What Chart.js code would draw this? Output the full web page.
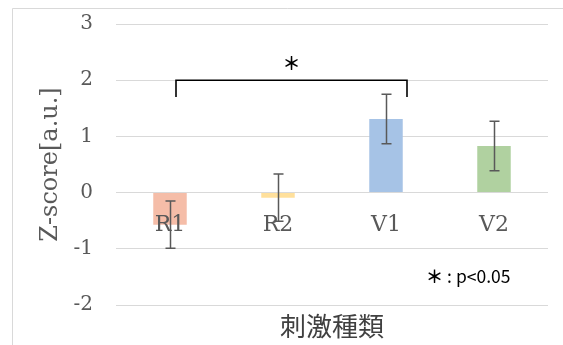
<!DOCTYPE html>
<html>
<head>
<meta charset="utf-8">
<script src="https://cdn.jsdelivr.net/npm/chart.js@4/dist/chart.umd.min.js"></script>
<style>
  html, body { margin: 0; padding: 0; background: #fff; overflow: hidden; }
  #wrap { width: 563px; height: 345px; }
</style>
</head>
<body>
<div id="wrap"><canvas id="c" width="563" height="345"></canvas></div>
<script>
// Stimulus categories and their mean Z-scores with error-bar half lengths
const categories = ['R1', 'R2', 'V1', 'V2'];
const zScores = [-0.57, -0.09, 1.31, 0.83];
const errors = [0.42, 0.42, 0.44, 0.44];
const barColors = ['#F5BDA8', '#FFE09C', '#A6C3E6', '#B0D1A0'];
const yTicks = [-2, -1, 0, 1, 2, 3];

// Significance bracket between two groups
const sigPair = ['R1', 'V1'];
const sigLevel = 2;
const sigDrop = 0.3;
const sigMark = '＊';
const noteMark = '＊';
const noteText = ' : p<0.05';

const SERIF = '"DejaVu Serif", "Liberation Serif", serif';
const SANS = '"Noto Sans CJK JP", "Noto Sans", sans-serif';
const GRAY = '#595959';

// Outer frame of the chart object
const framePlugin = {
  id: 'frame',
  beforeDraw(chart) {
    const ctx = chart.ctx;
    ctx.save();
    ctx.fillStyle = '#fff';
    ctx.fillRect(0, 0, chart.width, chart.height);
    ctx.strokeStyle = '#d9d9d9';
    ctx.lineWidth = 1;
    ctx.beginPath();
    ctx.moveTo(12.5, chart.height);
    ctx.lineTo(12.5, 8.5);
    ctx.lineTo(chart.width, 8.5);
    ctx.stroke();
    ctx.restore();
  }
};

// Category labels beside the zero line, error bars, bracket and note
const overlayPlugin = {
  id: 'overlay',
  afterDatasetsDraw(chart) {
    const ctx = chart.ctx;
    const xs = chart.scales.x;
    const ys = chart.scales.y;
    const meta = chart.getDatasetMeta(0);
    const zeroY = ys.getPixelForValue(0);

    ctx.save();
    // category labels
    ctx.font = '22px ' + SERIF;
    ctx.fillStyle = GRAY;
    ctx.textAlign = 'center';
    ctx.textBaseline = 'middle';
    categories.forEach((c, i) => {
      ctx.fillText(c, xs.getPixelForValue(i), zeroY + 33);
    });

    // error bars
    ctx.strokeStyle = GRAY;
    ctx.lineWidth = 1.5;
    meta.data.forEach((el, i) => {
      const x = Math.round(el.x) + 0.5;
      const top = ys.getPixelForValue(zScores[i] + errors[i]);
      const bot = ys.getPixelForValue(zScores[i] - errors[i]);
      ctx.beginPath();
      ctx.moveTo(x, top); ctx.lineTo(x, bot);
      ctx.moveTo(x - 5, top); ctx.lineTo(x + 5, top);
      ctx.moveTo(x - 5, bot); ctx.lineTo(x + 5, bot);
      ctx.stroke();
    });

    // significance bracket
    const i0 = categories.indexOf(sigPair[0]);
    const i1 = categories.indexOf(sigPair[1]);
    const bx0 = xs.getPixelForValue(i0) + 6;
    const bx1 = xs.getPixelForValue(i1) + 21;
    const by = ys.getPixelForValue(sigLevel);
    const byDrop = ys.getPixelForValue(sigLevel - sigDrop);
    ctx.strokeStyle = '#000';
    ctx.lineWidth = 1.6;
    ctx.beginPath();
    ctx.moveTo(bx0, byDrop); ctx.lineTo(bx0, by); ctx.lineTo(bx1, by); ctx.lineTo(bx1, byDrop);
    ctx.stroke();
    ctx.fillStyle = '#000';
    ctx.font = 'bold 18px ' + SANS;
    ctx.fillText(sigMark, (bx0 + bx1) / 2, ys.getPixelForValue(sigLevel + 0.3));

    // note: bold mark followed by the threshold text
    const nx = xs.getPixelForValue(2.76);
    const ny = ys.getPixelForValue(-1.49);
    ctx.font = 'bold 17.5px ' + SANS;
    const wMark = ctx.measureText(noteMark).width;
    ctx.font = '17.5px ' + SANS;
    const wText = ctx.measureText(noteText).width;
    const startX = nx - (wMark + wText) / 2;
    ctx.textAlign = 'left';
    ctx.font = 'bold 17.5px ' + SANS;
    ctx.fillText(noteMark, startX, ny);
    ctx.font = '17.5px ' + SANS;
    ctx.fillText(noteText, startX + wMark, ny);
    ctx.restore();
  }
};

new Chart(document.getElementById('c'), {
  type: 'bar',
  data: {
    labels: categories,
    datasets: [{
      data: zScores,
      backgroundColor: barColors,
      borderWidth: 0,
      categoryPercentage: 1,
      barPercentage: 0.31
    }]
  },
  options: {
    responsive: false,
    devicePixelRatio: 1,
    animation: false,
    layout: { padding: { top: 24, right: 15, bottom: 0, left: 0 } },
    plugins: { legend: { display: false }, tooltip: { enabled: false } },
    scales: {
      x: {
        grid: { display: false },
        border: { display: false },
        ticks: { display: false },
        title: {
          display: true,
          text: '刺激種類',
          color: '#404040',
          font: { family: SANS, size: 26, lineHeight: 1.2 },
          padding: { top: 0, bottom: 3 }
        },
        afterFit(scale) { scale.height = 40; scale.paddingLeft = 0; scale.paddingRight = 0; }
      },
      y: {
        min: -2,
        max: 3,
        afterBuildTicks(scale) { scale.ticks = yTicks.map(v => ({ value: v })); },
        grid: { color: '#d9d9d9', lineWidth: 1, drawTicks: false },
        border: { display: false },
        ticks: {
          padding: 23,
          color: GRAY,
          font: { family: SERIF, size: 20 },
          callback: v => String(v)
        },
        title: {
          display: true,
          text: 'Z-score[a.u.]',
          color: GRAY,
          font: { family: SERIF, size: 24, lineHeight: 1.2 },
          padding: { top: 36, bottom: 0 }
        },
        afterFit(scale) { scale.width = 116; scale.paddingTop = 0; scale.paddingBottom = 0; }
      }
    }
  },
  plugins: [framePlugin, overlayPlugin]
});
</script>
</body>
</html>
